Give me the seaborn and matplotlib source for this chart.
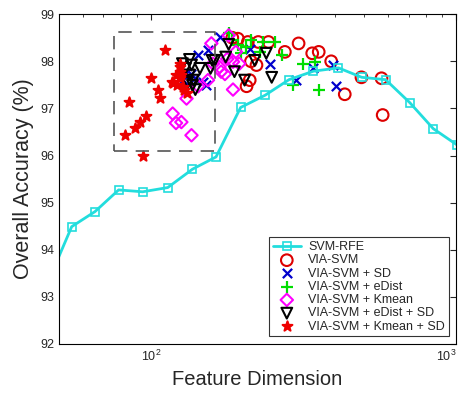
import numpy as np
import pandas as pd
import matplotlib
matplotlib.use('Agg')
import matplotlib.pyplot as plt
import seaborn as sns

# SVM-RFE curve
rfe_dim = [46, 55.1, 65.7, 78.5, 94.1, 113.7, 137, 163.6, 197, 237, 283.6, 341, 412, 491, 588, 706, 842, 1010]
rfe_acc = [93.3, 94.49, 94.81, 95.27, 95.23, 95.32, 95.71, 95.97, 97.02, 97.28, 97.61, 97.79, 97.86, 97.66, 97.61, 97.12, 96.57, 96.22]

# VIA-SVM
via_dim = [193, 208, 225, 243, 275, 305, 338, 355, 390, 490, 570, 432, 575, 222, 213, 206, 211, 185]
via_acc = [98.48, 98.41, 98.41, 98.41, 98.2, 98.38, 98.17, 98.2, 98.0, 97.66, 97.64, 97.30, 96.86, 97.92, 98.0, 97.47, 97.60, 98.5]

# VIA-SVM + SD
sd_dim = [143, 154, 168, 148, 152, 136, 140, 211, 245, 300, 340, 395, 405, 130, 128]
sd_acc = [98.13, 98.24, 98.52, 97.56, 97.49, 97.74, 97.65, 98.27, 97.95, 97.60, 97.85, 97.92, 97.47, 97.75, 97.6]

# VIA-SVM + eDist
ed_dim = [180, 193, 198, 205, 213, 228, 234, 255, 270, 315, 345, 292, 356, 185]
ed_acc = [98.59, 98.34, 98.17, 98.31, 98.45, 98.2, 98.41, 98.41, 98.13, 97.95, 97.99, 97.49, 97.39, 98.45]

# VIA-SVM + Kmean
km_dim = [118, 121, 126, 136, 131, 143, 154, 158, 168, 175, 186, 186, 180, 190, 160, 170, 178, 195]
km_acc = [96.89, 96.69, 96.71, 96.43, 97.21, 97.47, 97.60, 98.38, 97.88, 97.73, 97.99, 97.40, 98.55, 98.2, 97.95, 97.78, 98.05, 97.95]

# VIA-SVM + eDist + SD
edsd_dim = [127, 134, 136, 134, 137, 132, 145, 157, 159, 162, 176, 180, 188, 203, 219, 239, 249, 138, 140, 130]
edsd_acc = [97.95, 98.04, 97.92, 97.71, 97.49, 97.55, 97.85, 97.85, 98.02, 98.02, 98.09, 98.36, 97.78, 97.60, 98.02, 98.17, 97.66, 97.60, 97.40, 97.85]

# VIA-SVM + Kmean + SD
kmsd_dim = [111, 85, 100, 106, 107, 96.5, 92, 88.5, 82.5, 94, 117, 124.5, 124.5, 124.5, 122, 126, 127.5, 129, 121, 118, 124.5, 131]
kmsd_acc = [98.25, 97.14, 97.65, 97.39, 97.22, 96.84, 96.72, 96.58, 96.44, 95.99, 97.56, 97.88, 97.78, 97.64, 97.49, 97.71, 97.46, 97.39, 97.71, 97.53, 97.95, 97.33]

# zoom box
box_x = [76, 162]
box_y = [96.1, 98.62]

sns.set_style('white')
plt.rcParams['font.family'] = ['Liberation Sans', 'DejaVu Sans']

fig = plt.figure(figsize=(4.63, 3.94), dpi=100)
ax = fig.add_axes([0.127, 0.127, 0.858, 0.837])

ax.plot([box_x[0], box_x[1], box_x[1], box_x[0], box_x[0]],
        [box_y[0], box_y[0], box_y[1], box_y[1], box_y[0]],
        color='#555555', lw=1.2, dashes=(8, 5))

rfe = pd.DataFrame({'dim': rfe_dim, 'acc': rfe_acc})
sns.lineplot(data=rfe, x='dim', y='acc', ax=ax, color='#22dddd', lw=2,
             marker='s', markersize=6, markerfacecolor='none',
             markeredgecolor='#22dddd', markeredgewidth=1.2, label='SVM-RFE')

groups = [
    (via_dim, via_acc, 'VIA-SVM', 'o', '#dd0000', 'none', 70),
    (sd_dim, sd_acc, 'VIA-SVM + SD', 'x', '#0000cc', None, 45),
    (ed_dim, ed_acc, 'VIA-SVM + eDist', '+', '#00dd00', None, 80),
    (km_dim, km_acc, 'VIA-SVM + Kmean', 'D', '#ff00ff', 'none', 40),
    (edsd_dim, edsd_acc, 'VIA-SVM + eDist + SD', 'v', 'black', 'none', 60),
    (kmsd_dim, kmsd_acc, 'VIA-SVM + Kmean + SD', '*', '#ee0000', '#ee0000', 55),
]
for dims, accs, name, mk, col, fc, sz in groups:
    d = pd.DataFrame({'dim': dims, 'acc': accs})
    if fc is None:
        sns.scatterplot(data=d, x='dim', y='acc', ax=ax, marker=mk, color=col,
                        s=sz, linewidth=1.6, label=name)
    else:
        sns.scatterplot(data=d, x='dim', y='acc', ax=ax, marker=mk,
                        facecolor=fc, edgecolor=col, s=sz, linewidth=1.5,
                        label=name)

ax.set_xscale('log')
ax.set_xlim(50, 1000)
ax.set_ylim(92, 99)
ax.set_yticks(range(92, 100))
ax.set_xticks([100, 1000])
ax.tick_params(which='both', direction='in', top=True, right=True, labelsize=9)
ax.tick_params(which='major', length=4)
ax.tick_params(which='minor', length=2.5)
ax.get_xticklabels()[-1].set_horizontalalignment('right')
ax.set_xlabel('Feature Dimension', fontsize=14.5)
ax.set_ylabel('Overall Accuracy (%)', fontsize=15.5)
for s in ax.spines.values():
    s.set_color('black')
    s.set_linewidth(0.8)

leg = ax.legend(loc='lower right', fontsize=9, frameon=True, fancybox=False,
                edgecolor='black', borderpad=0.3, labelspacing=0.1,
                handletextpad=0.6, handlelength=2.2, borderaxespad=0.6)
leg.get_frame().set_linewidth(0.8)

fig.savefig('out.png', dpi=100)
